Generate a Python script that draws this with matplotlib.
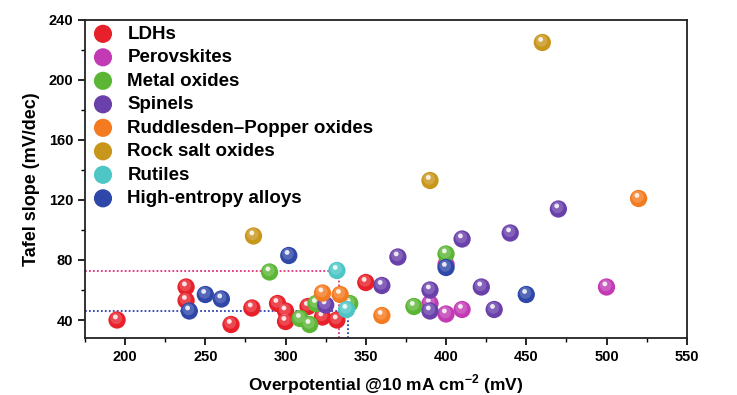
import matplotlib
matplotlib.use("Agg")
import matplotlib.pyplot as plt
import matplotlib.transforms as mtransforms
from matplotlib.ticker import MultipleLocator

plt.rcParams['font.family'] = ['Liberation Sans', 'DejaVu Sans']
plt.rcParams['font.weight'] = 'bold'
plt.rcParams['mathtext.fontset'] = 'custom'
plt.rcParams['mathtext.rm'] = 'Liberation Sans:bold'
plt.rcParams['mathtext.bf'] = 'Liberation Sans:bold'

categories = ["LDHs", "Perovskites", "Metal oxides", "Spinels",
              "Ruddlesden\u2013Popper oxides", "Rock salt oxides", "Rutiles",
              "High-entropy alloys"]
colors = ["#e8202a", "#c23bb5", "#5cb636", "#6a40aa", "#f47b20", "#c9961c",
          "#4ec6c6", "#2f47a8"]

ldh_x = [195, 238, 238, 266, 279, 295, 300, 300, 314, 323, 332, 350]
ldh_y = [40, 62, 53, 37, 48, 51, 46, 39, 49, 42, 40, 65]
perov_x = [400, 390, 400, 410, 500]
perov_y = [77, 51, 44, 47, 62]
metal_x = [290, 309, 315, 319, 340, 380, 400]
metal_y = [72, 41, 37, 51, 51, 49, 84]
spinel_x = [325, 360, 370, 390, 390, 410, 422, 430, 440, 470]
spinel_y = [50, 63, 82, 60, 46, 94, 62, 47, 98, 114]
rp_x = [323, 334, 360, 520]
rp_y = [58, 57, 43, 121]
rock_x = [280, 390, 460]
rock_y = [96, 133, 225]
rutile_x = [332, 338]
rutile_y = [73, 47]
hea_x = [240, 250, 260, 302, 400, 450]
hea_y = [46, 57, 54, 83, 75, 57]

series_x = [ldh_x, perov_x, metal_x, spinel_x, rp_x, rock_x, rutile_x, hea_x]
series_y = [ldh_y, perov_y, metal_y, spinel_y, rp_y, rock_y, rutile_y, hea_y]

ref_x = [333, 339]
ref_y = [72.5, 45.7]
ref_colors = ["#e0307a", "#3040b0"]

fig = plt.figure(figsize=(7.37, 3.95), dpi=100)
ax = fig.add_axes([0.1153, 0.1443, 0.8165, 0.8051])

ax.set_xlim(175, 550)
ax.set_ylim(28, 240)

# reference dotted lines
for rx, ry, rc in zip(ref_x, ref_y, ref_colors):
    ax.plot([175, rx], [ry, ry], linestyle=(0, (1, 1.2)), color=rc, lw=1.3, zorder=1)
    ax.plot([rx, rx], [28, ry], linestyle=(0, (1, 1.2)), color=rc, lw=1.3, zorder=1)

hl_trans = mtransforms.offset_copy(ax.transData, fig=fig, x=-1.2, y=2.2, units='points')
hl2_trans = mtransforms.offset_copy(ax.transData, fig=fig, x=-0.6, y=1.2, units='points')

handles = []
z = 3
for name, c, xs, ys in zip(categories, colors, series_x, series_y):
    h = ax.scatter(xs, ys, s=155, color=c, edgecolors='none', zorder=z, label=name)
    ax.scatter(xs, ys, s=72, color='white', alpha=0.18, edgecolors='none',
               zorder=z + 0.1, transform=hl2_trans)
    ax.scatter(xs, ys, s=12, color='white', alpha=0.85, edgecolors='none',
               zorder=z + 0.2, transform=hl_trans)
    handles.append(h)
    z += 1

leg = ax.legend(handles=handles, loc='upper left', frameon=False,
                prop={'weight': 'bold', 'size': 13.5}, labelspacing=0.34,
                handletextpad=0.8, borderaxespad=0.0, bbox_to_anchor=(0.005, 1.0),
                markerscale=1.05, handlelength=1.0, borderpad=0.3)

ax.xaxis.set_major_locator(MultipleLocator(50))
ax.xaxis.set_minor_locator(MultipleLocator(25))
ax.yaxis.set_major_locator(MultipleLocator(40))
ax.yaxis.set_minor_locator(MultipleLocator(20))
ax.tick_params(which='major', direction='out', length=5, width=1.2, labelsize=10.5,
               top=False, right=False)
ax.tick_params(which='minor', direction='out', length=3, width=1.0,
               top=False, right=False)
for lab in ax.get_xticklabels() + ax.get_yticklabels():
    lab.set_fontweight('bold')
for sp in ax.spines.values():
    sp.set_linewidth(1.3)
    sp.set_color('#222222')

ax.set_xlabel(r'Overpotential @10 mA cm$^{-2}$ (mV)', fontsize=12.5, fontweight='bold', labelpad=6)
ax.set_ylabel('Tafel slope (mV/dec)', fontsize=13, fontweight='bold', labelpad=6)

fig.savefig('out.png', dpi=100)
